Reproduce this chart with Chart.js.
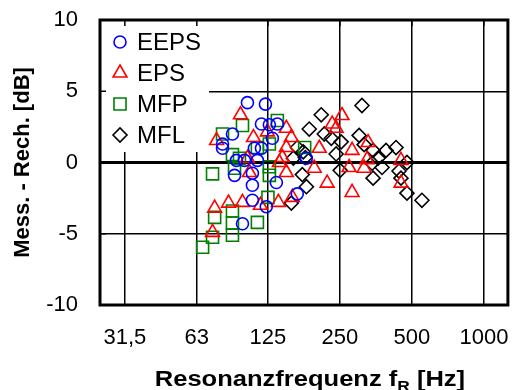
<!DOCTYPE html>
<html>
<head>
  <title>Mess. - Rech.</title>
  <script src="https://cdn.jsdelivr.net/npm/chart.js"></script>
  <style>body { margin: 0; background: #fff; }</style>
</head>
<body>
  <canvas id="chart" width="518" height="390"></canvas>

  <script>
    // tick labels
    const xTicks = [31.5, 63, 125, 250, 500, 1000];
    const xTickLabels = ['31,5', '63', '125', '250', '500', '1000'];
    const yTicks = [-10, -5, 0, 5, 10];

    // resonance frequency [Hz] and difference [dB], per series
    const eepsF = [102.6, 122, 117.4, 126.7, 136.8, 88.8, 80.7, 80.7, 109.7, 117.4, 92.3, 99.7, 112.9, 90.6, 107.6, 107.6, 135.5, 107.6, 123, 97.8, 165.8, 180.8, 130.4];
    const eepsD = [4.2, 4.1, 2.7, 2.65, 2.7, 2.0, 1.3, 1.0, 1.0, 1.0, 0.15, 0.15, 0.15, -0.9, -0.75, -1.6, -1.4, -2.65, -3.1, -4.3, -2.2, 0.3, 1.7];

    const epsF = [95.9, 76.2, 108.7, 124.3, 149.2, 156.5, 149.2, 102.6, 139.5, 143.5, 104.6, 149.2, 74.8, 85.5, 97.8, 116.2, 138.2, 158, 73.3, 232, 255, 241, 204.8, 195.2, 221, 281, 281, 273, 315.6, 324.7, 327.9, 450, 450];
    const epsD = [3.35, 1.54, 1.75, 2.15, 2.4, 1.75, 1.05, 0.3, 0, 0.35, -0.7, -0.7, -3.2, -2.85, -2.8, -3.0, -2.8, -2.45, -4.9, 2.7, 3.3, 2.4, 1.0, -0.4, -1.45, -2.1, 0.85, -0.35, -0.4, 0.2, 1.4, 0.15, -1.45];

    const mfpF = [80.7, 97.8, 136.8, 112.9, 126.7, 88.8, 95, 126.7, 126.7, 73.3, 90.6, 125, 178, 74.8, 88.8, 88.8, 112.9, 73.3, 88.8, 66.6];
    const mfpD = [2.0, 2.6, 2.95, 1.05, 1.3, 0.55, 0.3, -0.3, -0.9, -0.8, -0.4, -2.45, 1.05, -3.85, -3.4, -4.25, -4.2, -5.25, -5.1, -5.95];

    const mflF = [309, 208.8, 186, 215, 230, 253, 166, 175.6, 159.6, 179, 241, 250.5, 174, 181, 156.5, 300.8, 315.6, 344, 389.7, 429, 361, 340.8, 375, 441.5, 476.7, 450, 344, 476.7, 550.5];
    const mflD = [4.0, 3.35, 2.35, 2.0, 1.7, 1.45, 1.05, 0.75, 0.3, 0.35, 0.6, -0.55, -0.85, -1.7, -2.85, 1.9, 1.25, 0.85, 0.85, 1.05, 0.3, -0.05, -0.35, -0.6, 0, -1.1, -1.1, -2.15, -2.65];

    const pts = (f, d) => f.map((v, i) => ({ x: v, y: d[i] }));

    function series(label, f, d, color, style, radius) {
      return {
        label: label,
        data: pts(f, d),
        borderColor: color,
        backgroundColor: 'transparent',
        pointStyle: style,
        pointRadius: radius,
        pointBorderWidth: 1.6,
        pointHoverRadius: radius
      };
    }

    // legend box, frame and inner tick marks
    const frame = {
      id: 'frame',
      beforeDatasetsDraw(chart) {
        const ctx = chart.ctx;
        const a = chart.chartArea;
        const xs = chart.scales.x, ys = chart.scales.y;
        ctx.save();
        ctx.fillStyle = '#fff';
        ctx.fillRect(a.left, a.top, 109, 132);
        ctx.strokeStyle = '#000';
        ctx.lineWidth = 1.5;
        ctx.beginPath();
        xTicks.forEach(v => {
          const px = xs.getPixelForValue(v);
          ctx.moveTo(px, a.top); ctx.lineTo(px, a.top + 6);
        });
        yTicks.forEach(v => {
          const py = ys.getPixelForValue(v);
          ctx.moveTo(a.left, py); ctx.lineTo(a.left + 6, py);
        });
        ctx.stroke();
        ctx.lineWidth = 3;
        ctx.strokeRect(a.left, a.top, a.right - a.left, a.bottom - a.top);

        // legend entries
        ctx.font = '24px "Liberation Sans", Arial, sans-serif';
        ctx.textBaseline = 'middle';
        chart.data.datasets.forEach((ds, i) => {
          const y = a.top + 22 + i * 31;
          ctx.fillStyle = 'transparent';
          ctx.strokeStyle = ds.borderColor;
          ctx.lineWidth = 1.6;
          Chart.helpers.drawPoint(ctx, { pointStyle: ds.pointStyle, radius: ds.pointRadius, rotation: 0, borderWidth: 1.6 }, a.left + 20, y);
          ctx.fillStyle = '#000';
          ctx.fillText(ds.label, a.left + 37, y + 1);
        });
        ctx.restore();
      },
      afterDraw(chart) {
        // x axis title with subscript R
        const ctx = chart.ctx;
        const a = chart.chartArea;
        const big = 'bold 22px "Liberation Sans", Arial, sans-serif';
        const small = 'bold 15px "Liberation Sans", Arial, sans-serif';
        const p1 = 'Resonanzfrequenz f', p2 = 'R', p3 = ' [Hz]';
        ctx.save();
        ctx.fillStyle = '#000';
        ctx.textBaseline = 'alphabetic';
        ctx.font = big;
        const w1 = ctx.measureText(p1).width, w3 = ctx.measureText(p3).width;
        ctx.font = small;
        const w2 = ctx.measureText(p2).width;
        const sx = 1.16;
        const total = (w1 + w2 + w3) * sx;
        const cx = (a.left + a.right) / 2 + 6;
        ctx.translate(cx - total / 2, 386);
        ctx.scale(sx, 1);
        ctx.font = big;
        ctx.fillText(p1, 0, 0);
        ctx.font = small;
        ctx.fillText(p2, w1, 5);
        ctx.font = big;
        ctx.fillText(p3, w1 + w2, 0);
        ctx.restore();
      }
    };

    const tickFont = { family: '"Liberation Sans", Arial, sans-serif', size: 22 };

    const ctx = document.getElementById('chart').getContext('2d');
    new Chart(ctx, {
      type: 'scatter',
      data: {
        datasets: [
          series('EEPS', eepsF, eepsD, '#0000ff', 'circle', 6),
          series('EPS', epsF, epsD, '#ff0000', 'triangle', 8),
          series('MFP', mfpF, mfpD, '#008000', 'rect', 8.5),
          series('MFL', mflF, mflD, '#000000', 'rectRot', 7)
        ]
      },
      options: {
        responsive: false,
        animation: false,
        layout: { padding: { top: 20, right: 8, left: 0, bottom: 0 } },
        plugins: { legend: { display: false }, tooltip: { enabled: false } },
        scales: {
          x: {
            type: 'logarithmic',
            min: 24.8,
            max: 1260,
            afterBuildTicks: s => { s.ticks = xTicks.map(v => ({ value: v })); },
            afterFit: s => { s.height = 85; s.paddingLeft = 0; s.paddingRight = 0; },
            grid: { color: '#000', lineWidth: 1.5, drawTicks: false },
            border: { display: false },
            ticks: {
              autoSkip: false, maxRotation: 0, padding: 20, color: '#000', font: tickFont,
              callback: (v, i) => xTickLabels[i]
            }
          },
          y: {
            min: -10,
            max: 10,
            afterBuildTicks: s => { s.ticks = yTicks.map(v => ({ value: v })); },
            afterFit: s => { s.width = 100; s.paddingTop = 0; s.paddingBottom = 0; },
            grid: { color: '#000', lineWidth: c => (c.tick && c.tick.value === 0 ? 3 : 1.5), drawTicks: false },
            border: { display: false },
            ticks: { padding: 22, color: '#000', font: tickFont },
            title: {
              display: true,
              text: 'Mess. - Rech. [dB]',
              color: '#000',
              font: { family: '"Liberation Sans", Arial, sans-serif', size: 22, weight: 'bold' },
              padding: { top: 10, bottom: 0 }
            }
          }
        }
      },
      plugins: [frame]
    });
  </script>
</body>
</html>
